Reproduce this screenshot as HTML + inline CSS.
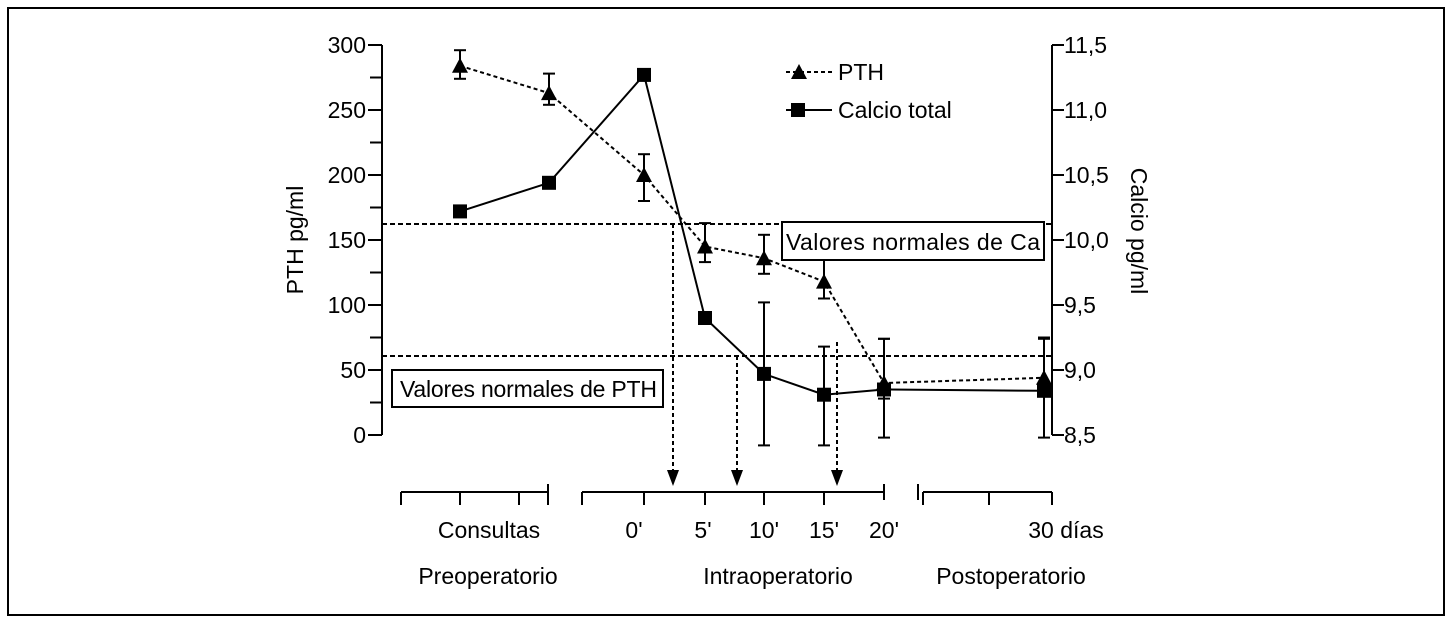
<!DOCTYPE html>
<html><head><meta charset="utf-8"><style>
body{margin:0;background:#fff}
svg text{font-family:"Liberation Sans",sans-serif;fill:#000}
</style></head><body>
<svg width="1453" height="624">
<rect x="8" y="8" width="1436" height="607" fill="none" stroke="#000" stroke-width="2"/>
<g id="g"></g>
</svg>
<script>
const xPos=[460,549,644,705,764,824,884,1044];
const pthValues=[284,263,200,145,136,118,40,44];
const pthLow=[274,254,180,133,124,105,28,30];
const pthHigh=[296,278,216,163,154,160,74,75];
const caValues=[10.22,10.44,11.27,9.40,8.97,8.81,8.85,8.84];
const caLow=[null,null,null,null,8.42,8.42,8.48,8.48];
const caHigh=[null,null,null,null,9.52,9.18,9.24,9.24];
const pthTicks=[0,50,100,150,200,250,300];
const caTicks=["8,5","9,0","9,5","10,0","10,5","11,0","11,5"];
const FS=23;
const yP=v=>435-v*1.3;
const yC=v=>435-(v-8.5)*130;
const g=document.getElementById('g');
const NS='http://www.w3.org/2000/svg';
function el(t,a,txt){const e=document.createElementNS(NS,t);for(const k in a)e.setAttribute(k,a[k]);if(txt!=null)e.textContent=txt;g.appendChild(e);return e;}
function line(x1,y1,x2,y2,dash,w){return el('line',{x1,y1,x2,y2,stroke:'#000','stroke-width':w||2,'stroke-dasharray':dash||''});}
// axes
let a=line(382,45,382,435);
for(let i=0;i<=12;i++){const y=435-i*32.5;line(i%2?370:368,y,382,y);}
pthTicks.forEach(v=>{const t=el('text',{x:366,y:yP(v)+8,'text-anchor':'end','font-size':FS},v);

});
a=line(1052,45,1052,435);
caTicks.forEach((s,i)=>{const y=435-i*65;line(1052,y,1064,y);const t=el('text',{x:1064,y:y+8,'font-size':FS},s);

});
let t=el('text',{transform:'translate(303,240) rotate(-90)','text-anchor':'middle','font-size':FS},'PTH pg/ml');

t=el('text',{transform:'translate(1131,231) rotate(90)','text-anchor':'middle','font-size':FS},'Calcio pg/ml');

// normal ranges
line(382,224,1052,224,'5,3');line(382,356,1052,356,'5,3');
// arrows
[[673,224],[737,356],[837,342]].forEach(([x,y0])=>{line(x,y0,x,470,'4,3');el('polygon',{points:`${x-6},470 ${x+6},470 ${x},486`,fill:'#000'});});
// bottom axis
line(401,492,548,492);[401,460,519,548].forEach(x=>line(x,492,x,505));line(548,484,548,492);
line(582,492,884,492);[582,644,705,764,824].forEach(x=>line(x,492,x,505));line(884,484,884,500);
line(918,484,918,500);line(923,492,1052,492);[923,989,1052].forEach(x=>line(x,492,x,505));
[['Consultas',489,538],["0'",634,538],["5'",703,538],["10'",764,538],["15'",824,538],["20'",884,538],['30 días',1066,538],['Preoperatorio',488,584],['Intraoperatorio',778,584],['Postoperatorio',1011,584]].forEach(([s,x,y])=>{const e=el('text',{x,y,'text-anchor':'middle','font-size':FS},s);

});
// series lines
let d='';xPos.forEach((x,i)=>d+=(i?'L':'M')+x+','+yP(pthValues[i]));
el('path',{d,fill:'none',stroke:'#000','stroke-width':2,'stroke-dasharray':'4,3'});
d='';xPos.forEach((x,i)=>d+=(i?'L':'M')+x+','+yC(caValues[i]));
el('path',{d,fill:'none',stroke:'#000','stroke-width':2});
function eb(x,y1,y2){line(x,y1,x,y2);line(x-6,y1,x+6,y1);line(x-6,y2,x+6,y2);}
xPos.forEach((x,i)=>{eb(x,yP(pthLow[i]),yP(pthHigh[i]));if(caLow[i]!=null)eb(x,yC(caLow[i]),yC(caHigh[i]));});
xPos.forEach((x,i)=>{const y=yP(pthValues[i]);const p=el('polygon',{points:`${x-8},${y+7} ${x+8},${y+7} ${x},${y-8}`,fill:'#000'});

});
xPos.forEach((x,i)=>{const y=yC(caValues[i]);const r=el('rect',{x:x-7,y:y-7,width:14,height:14,fill:'#000'});

});
// labels boxes (on top)
el('rect',{x:782,y:222,width:262,height:38,fill:'#fff',stroke:'#000','stroke-width':2});
t=el('text',{x:786,y:250,'font-size':FS,textLength:254},'Valores normales de Ca');
el('rect',{x:392,y:370,width:271,height:37,fill:'#fff',stroke:'#000','stroke-width':2});
t=el('text',{x:400,y:397,'font-size':FS,textLength:257},'Valores normales de PTH');
// legend
line(786,72,832,72,'4,3');el('polygon',{points:'791,79 807,79 799,64',fill:'#000'});
t=el('text',{x:838,y:80,'font-size':FS},'PTH');
line(786,110,832,110);el('rect',{x:791,y:103,width:14,height:14,fill:'#000'});
t=el('text',{x:838,y:118,'font-size':FS},'Calcio total');
</script>
</body></html>
